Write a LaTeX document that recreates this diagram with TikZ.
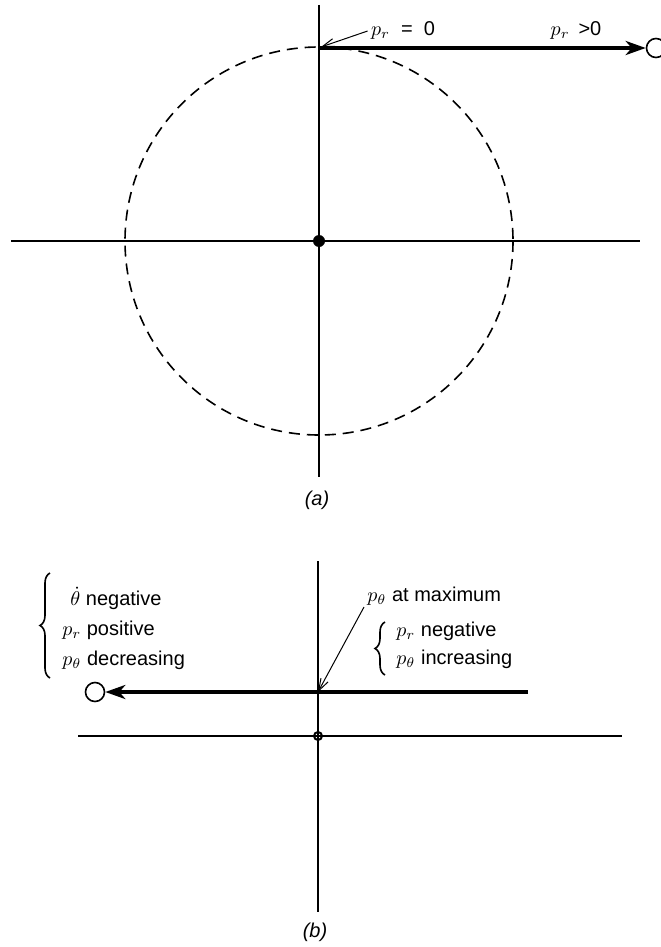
\documentclass[tikz,border=0pt]{standalone}
\usepackage{fontspec}
\setmainfont{Liberation Sans}
\usetikzlibrary{arrows.meta,decorations.pathreplacing}
\tikzset{
  axis/.style={line width=1pt},
  orbit/.style={line width=0.8pt, dash pattern=on 5.5pt off 3.5pt},
  pathline/.style={line width=2pt, -{Stealth[length=10pt,width=7pt,inset=3pt]}},
  pointer/.style={line width=0.5pt, -{Straight Barb[length=6pt,width=4pt]}},
  endpt/.style={circle, draw, line width=0.8pt, minimum size=9.5pt, inner sep=0pt},
  lbl/.style={font=\fontsize{10}{12}\selectfont, inner sep=0pt},
  notes/.style={lbl, align=left, anchor=west},
  curly/.style={decorate, decoration={brace, amplitude=5pt}, line width=0.8pt},
}
\begin{document}
\begin{tikzpicture}[x=0.5pt, y=-0.5pt]
    \useasboundingbox (0,0) rectangle (660,947);
    % --- 参数 ---
    \def\R{194}

    % --- (a) 坐标轴 ---
    \coordinate (Oa) at (319,241);
    \coordinate (atop) at (319,5);
    \coordinate (abot) at (319,477);
    \coordinate (aleft) at (11,241);
    \coordinate (aright) at (640,241);
    \draw[axis] (atop) -- (abot);
    \draw[axis] (aleft) -- (aright);
    % 圆轨道 (虚线)
    \draw[orbit] (Oa) circle[radius=\R];
    \fill (Oa) circle[radius=6];

    % --- (a) p_r 箭头 ---
    \coordinate (apeak) at (319,48);
    \node[endpt] (aend) at (656,48) {};
    \draw[pathline] (apeak) -- (aend.west);
    \node[lbl] (przero) at (403,30) {$p_r$ \ = \ 0};
    \node[lbl] (prpos) at (576,30) {$p_r$ \,>0};
    \draw[pointer] (przero.west) ++(-3,1) coordinate (przerotail) -- (321,47);

    \node[lbl] (capa) at (317,500) {\textit{(a)}};

    % --- (b) 坐标轴 ---
    \coordinate (Ob) at (318,736);
    \coordinate (btop) at (318,561);
    \coordinate (bbot) at (318,912);
    \coordinate (bleft) at (78,736);
    \coordinate (bright) at (622,736);
    \draw[axis] (btop) -- (bbot);
    \draw[axis] (bleft) -- (bright);
    \draw[line width=1pt] (Ob) circle[radius=4];

    % --- (b) p_theta 箭头 ---
    \coordinate (bstart) at (528,692);
    \coordinate (bmax) at (318,692);
    \node[endpt] (bend) at (95,692) {};
    \draw[pathline] (bstart) -- (bend.east);

    \node[lbl, anchor=west] (ptmax) at (367,596) {$p_\theta$ at maximum};
    \coordinate (ptmaxtail) at (364,607);
    \draw[pointer] (ptmaxtail) -- (bmax);

    % --- 括号说明 ---
    \coordinate (lbrbot) at (50,678);
    \coordinate (lbrtop) at (50,573);
    \draw[curly] (lbrbot) -- (lbrtop);
    \node[notes] (leftnote) at (62,626)
      [text depth=0pt, font=\fontsize{10}{15}\selectfont]
      {\hspace*{4pt}$\dot\theta$ negative\\ $p_r$ positive\\ $p_\theta$ decreasing};
    \coordinate (rbrbot) at (385,675);
    \coordinate (rbrtop) at (385,622);
    \draw[curly] (rbrbot) -- (rbrtop);
    \node[notes] (rightnote) at (396,645)
      [font=\fontsize{10}{14}\selectfont]
      {$p_r$ negative\\ $p_\theta$ increasing};

    \node[lbl] (capb) at (315,932) {\textit{(b)}};
\end{tikzpicture}
\end{document}
